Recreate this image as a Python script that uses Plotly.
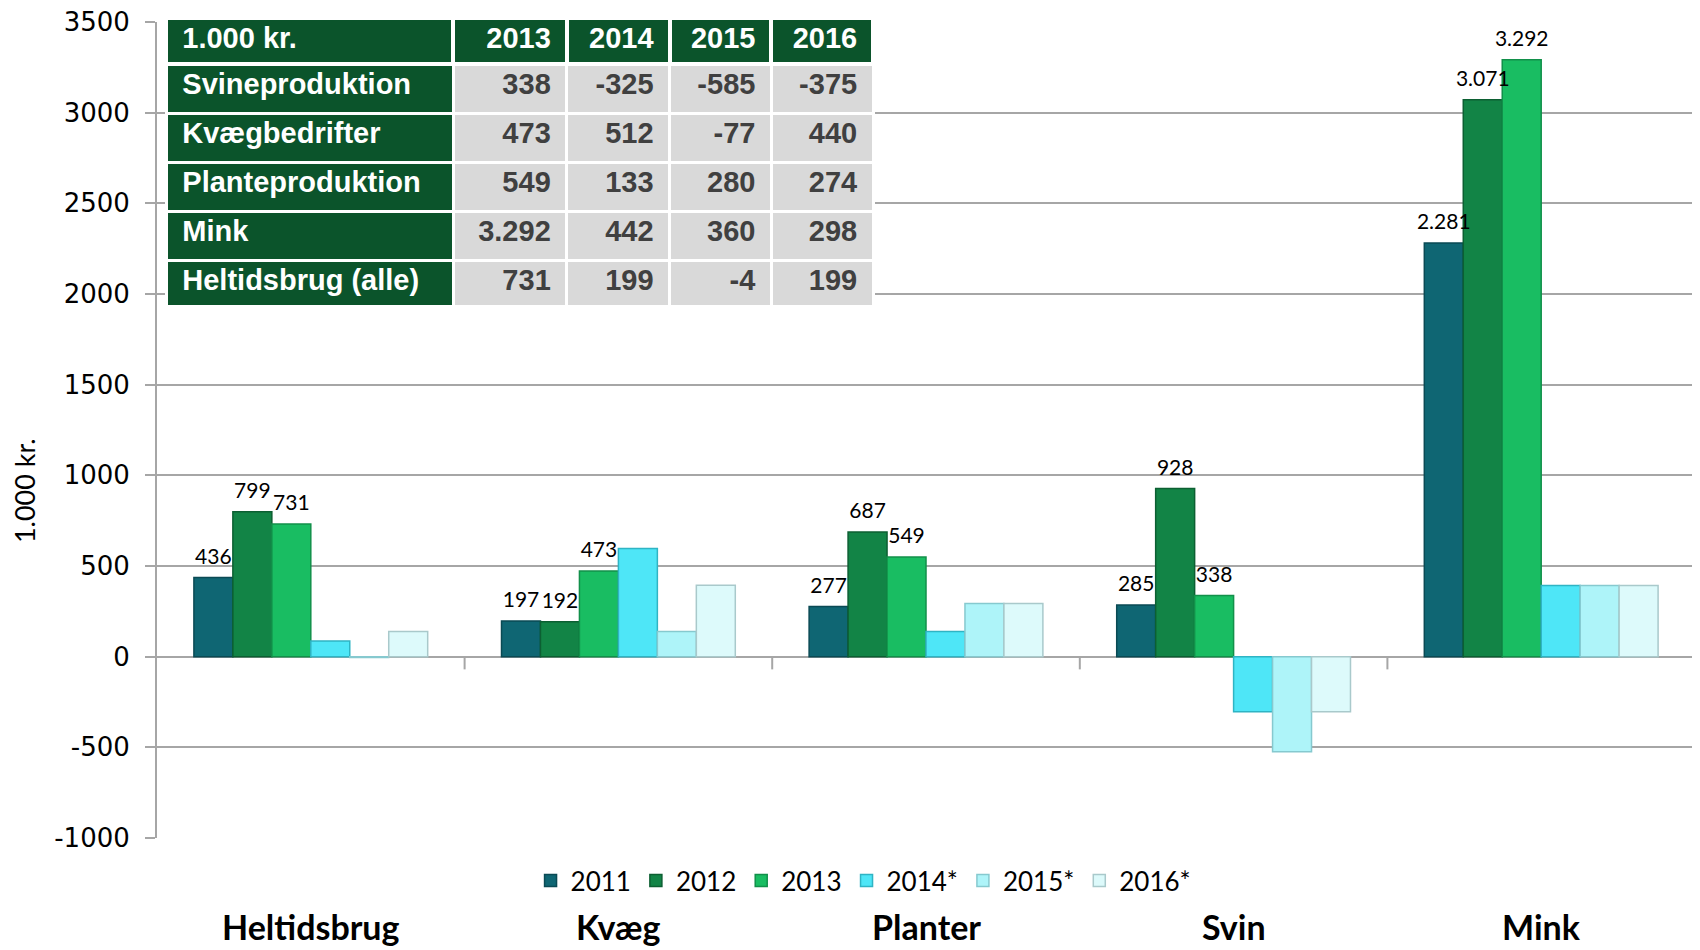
import plotly.graph_objects as go

categories = ["Heltidsbrug", "Kvæg", "Planter", "Svin", "Mink"]
series_names = ["2011", "2012", "2013", "2014*", "2015*", "2016*"]
values_2011 = [436, 197, 277, 285, 2281]
values_2012 = [799, 192, 687, 928, 3071]
values_2013 = [731, 473, 549, 338, 3292]
values_2014 = [87, 597, 139, -304, 393]
values_2015 = [-4, 139, 293, -524, 393]
values_2016 = [139, 394, 293, -304, 393]
series_values = [values_2011, values_2012, values_2013, values_2014, values_2015, values_2016]
labelled = [True, True, True, False, False, False]
colors = ["#0f6673", "#128446", "#19bd62", "#4ee6f7", "#aef4f9", "#ddfafb"]
edge_colors = ["#0a4a54", "#0c5f32", "#12904a", "#2fb4c4", "#86c9cf", "#a9c9cb"]

table_header = ["1.000 kr.", "2013", "2014", "2015", "2016"]
table_rows = ["Svineproduktion", "Kvægbedrifter", "Planteproduktion", "Mink", "Heltidsbrug (alle)"]
table_2013 = ["338", "473", "549", "3.292", "731"]
table_2014 = ["-325", "512", "133", "442", "199"]
table_2015 = ["-585", "-77", "280", "360", "-4"]
table_2016 = ["-375", "440", "274", "298", "199"]

y_ticks = [-1000, -500, 0, 500, 1000, 1500, 2000, 2500, 3000, 3500]

dark_green = "#0b542b"
grid = "#a6a6a6"
label_font = "Lato, Carlito, sans-serif"
table_font = "Liberation Sans Narrow, Arial Narrow, Liberation Sans"
nb = "\u00a0"


def pad_left(items):
    return [nb + s for s in items]


def pad_right(items):
    return [s + nb for s in items]


fig = go.Figure()

for name, vals, col, edge in zip(series_names, series_values, colors, edge_colors):
    fig.add_trace(go.Bar(
        x=categories, y=vals, name=name, offsetgroup=name,
        marker=dict(color=col, line=dict(color=edge, width=1.5)),
    ))

# value labels drawn on top of all bars, grouped the same way as the bars
for name, vals, lab in zip(series_names, series_values, labelled):
    fig.add_trace(go.Scatter(
        x=categories, y=vals, offsetgroup=name, mode="markers+text",
        marker=dict(size=12, color="rgba(0,0,0,0)"),
        text=[f"{v:,}".replace(",", ".") if lab else "" for v in vals],
        textposition="top center",
        textfont=dict(family=label_font, size=21, color="#000000"),
        showlegend=False, hoverinfo="skip", cliponaxis=False,
    ))

fig.add_trace(go.Table(
    domain=dict(x=[0.006, 0.466], y=[0.65, 1.0]),
    columnwidth=[265, 105, 95, 94, 94],
    header=dict(
        values=pad_left(table_header[:1]) + pad_right(table_header[1:]),
        fill_color=dark_green,
        line=dict(color="white", width=4),
        align=["left", "right"],
        font=dict(family=table_font, size=29, color="white", weight="bold"),
        height=46,
    ),
    cells=dict(
        values=[pad_left(table_rows), pad_right(table_2013), pad_right(table_2014),
                pad_right(table_2015), pad_right(table_2016)],
        fill_color=[[dark_green] * len(table_rows)] + [["#d9d9d9"] * len(table_rows)] * 4,
        line=dict(color="white", width=3),
        align=["left", "right"],
        font=dict(family=table_font, size=29,
                  color=[["white"] * len(table_rows)] + [["#404040"] * len(table_rows)] * 4, weight="bold"),
        height=49,
    ),
))

# small separators on the zero line between categories
for i in range(len(categories) - 1):
    fig.add_shape(type="line", xref="x", yref="y", x0=i + 0.5, x1=i + 0.5, y0=0, y1=-70,
                  line=dict(color=grid, width=2))

for c in categories:
    fig.add_annotation(x=c, xref="x", y=-0.081, yref="paper", yanchor="top", text=f"<b>{c}</b>",
                       showarrow=False, font=dict(family=label_font, size=34, color="#000000"))

fig.add_annotation(x=-0.098, xref="paper", y=0.424, yref="paper", text="1.000 kr.", textangle=-90,
                   showarrow=False, font=dict(family=label_font, size=27, color="#000000"))

fig.update_layout(
    width=1700, height=950,
    margin=dict(l=149, r=13, t=10, b=120),
    plot_bgcolor="white", paper_bgcolor="white",
    barmode="group", bargap=0.24, bargroupgap=0,
    scattermode="group", scattergap=0.24,
    showlegend=True,
    legend=dict(orientation="h", x=0.4594, xanchor="center", y=-0.052, yanchor="middle",
                font=dict(family=label_font, size=26, color="#000000"),
                itemwidth=30, traceorder="normal"),
    xaxis=dict(showticklabels=False, showgrid=False, ticks="", showline=False, zeroline=False,
               automargin=False),
    yaxis=dict(domain=[0, 0.9951], range=[-1000, 3500], tickvals=y_ticks, ticktext=[str(v) for v in y_ticks],
               showgrid=True, gridcolor=grid, gridwidth=2,
               zeroline=True, zerolinecolor=grid, zerolinewidth=2,
               showline=True, linecolor=grid, linewidth=2, ticks="outside", ticklen=10, tickcolor=grid,
               tickwidth=2, ticklabelstandoff=10, ticklabeloverflow="allow", automargin=False,
               tickfont=dict(family="DejaVu Sans, sans-serif", size=26, color="#000000")),
)

fig.write_html("out.html")
